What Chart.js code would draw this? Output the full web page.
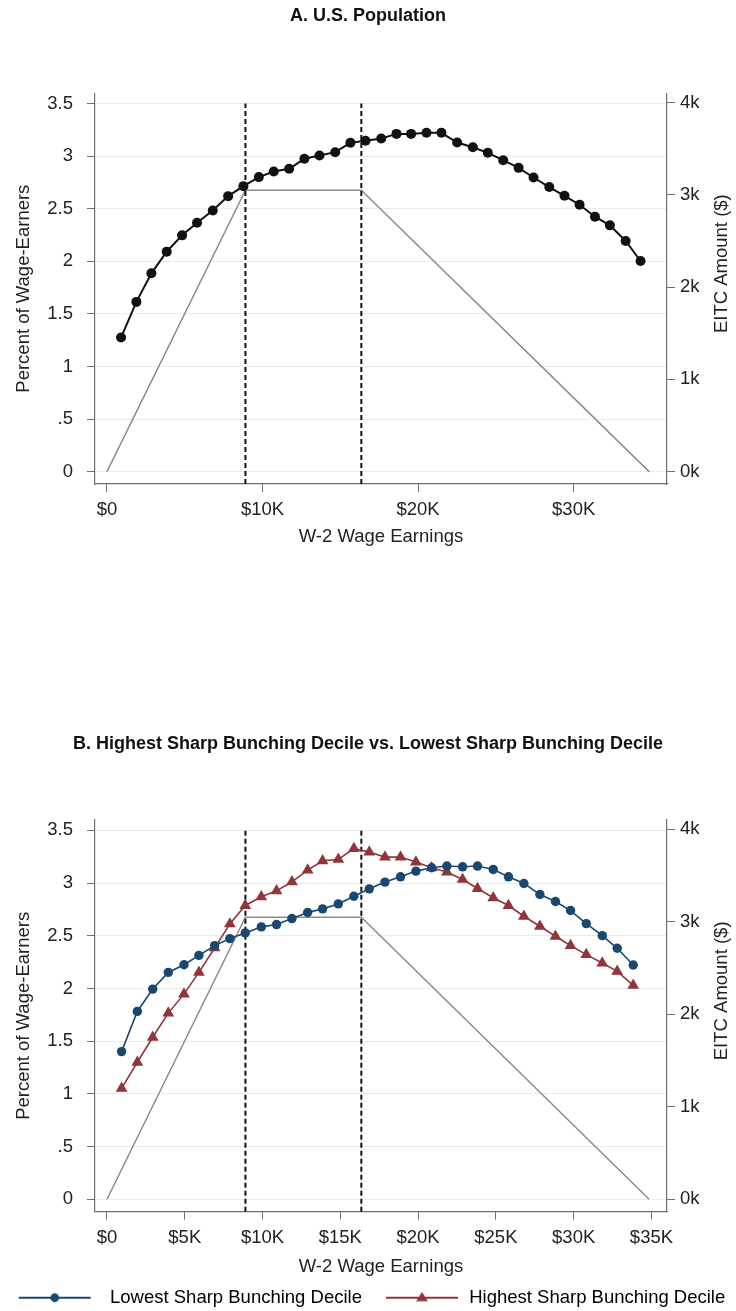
<!DOCTYPE html>
<html>
<head>
<meta charset="utf-8">
<script src="https://cdn.jsdelivr.net/npm/chart.js@4/dist/chart.umd.min.js"></script>
<style>
  html, body { margin: 0; padding: 0; background: #fff; overflow: hidden; }
  #wrapA { position: absolute; left: 0; top: 0; width: 736px; height: 560px; }
  #wrapB { position: absolute; left: 0; top: 730px; width: 736px; height: 587px; }
</style>
</head>
<body>
<div id="wrapA"><canvas id="chartA" width="736" height="560"></canvas></div>
<div id="wrapB"><canvas id="chartB" width="736" height="587"></canvas></div>
<script>
// Panel A: U.S. population, share of wage earners by W-2 earnings bin
const earningsA = [905, 1890, 2855, 3840, 4830, 5790, 6800, 7790, 8770, 9760, 10720, 11710,
  12690, 13660, 14670, 15650, 16620, 17630, 18610, 19550, 20540, 21500, 22510, 23520,
  24480, 25470, 26460, 27420, 28430, 29410, 30380, 31370, 32330, 33340, 34300];
const shareA = [1.275, 1.614, 1.886, 2.092, 2.247, 2.367, 2.484, 2.62, 2.715, 2.801, 2.854, 2.88,
  2.975, 3.006, 3.038, 3.127, 3.146, 3.168, 3.212, 3.212, 3.222, 3.222, 3.13, 3.085,
  3.032, 2.962, 2.889, 2.797, 2.706, 2.623, 2.538, 2.424, 2.342, 2.193, 2.003];

// Panel B: lowest vs highest sharp bunching decile
const earningsB = [940, 1950, 2940, 3940, 4950, 5910, 6920, 7900, 8890, 9920, 10900, 11890,
  12900, 13860, 14870, 15870, 16860, 17870, 18870, 19860, 20870, 21850, 22860, 23820,
  24830, 25810, 26800, 27830, 28830, 29800, 30810, 31840, 32800, 33830];
const shareLowest = [1.401, 1.782, 1.994, 2.152, 2.225, 2.314, 2.406, 2.473, 2.527, 2.584, 2.606, 2.663,
  2.72, 2.755, 2.802, 2.875, 2.945, 3.009, 3.059, 3.113, 3.145, 3.161, 3.154, 3.161,
  3.129, 3.059, 2.996, 2.891, 2.825, 2.739, 2.615, 2.501, 2.381, 2.222];
const shareHighest = [1.052, 1.30, 1.537, 1.766, 1.946, 2.152, 2.384, 2.612, 2.787, 2.869, 2.926, 3.012,
  3.123, 3.211, 3.224, 3.326, 3.294, 3.246, 3.246, 3.199, 3.145, 3.104, 3.034, 2.948,
  2.86, 2.787, 2.685, 2.59, 2.495, 2.406, 2.321, 2.241, 2.162, 2.029];

// EITC schedule (right axis) and its kinks (dashed lines)
const eitcEarnings = [0, 8900, 16350, 34850];
const eitcAmount = [0, 3050, 3050, 0];
const kinkEarnings = [8900, 16350];

// tick labels
const xTicksA = [0, 10000, 20000, 30000];
const xLabelsA = ['$0', '$10K', '$20K', '$30K'];
const xTicksB = [0, 5000, 10000, 15000, 20000, 25000, 30000, 35000];
const xLabelsB = ['$0', '$5K', '$10K', '$15K', '$20K', '$25K', '$30K', '$35K'];
const leftTicks = [0, 0.5, 1, 1.5, 2, 2.5, 3, 3.5];
const leftLabels = ['0', '.5', '1', '1.5', '2', '2.5', '3', '3.5'];
const rightTicks = [0, 1000, 2000, 3000, 4000];
const rightLabels = ['0k', '1k', '2k', '3k', '4k'];

const FONT = "'Liberation Sans', Arial, Helvetica, sans-serif";
Chart.defaults.font.family = FONT;
Chart.defaults.font.size = 18.5;
Chart.defaults.color = '#222';

const AXIS = '#6e6e6e';
const GRID = '#ebebeb';
const NAVY = '#1a476f';
const MAROON = '#90353b';

const xMin = -770, xMax = 36000;
const yMin = -0.118, yMax = 3.598;
const eitcPerUnit = 3050 / 2.676;   // right axis lined up with left
const dashTop = 3.5;

// right axis title reads bottom-to-top like the left one
const rightTitle = {
  id: 'rightTitle',
  afterDraw(chart, args, opts) {
    const a = chart.chartArea, ctx = chart.ctx;
    ctx.save();
    ctx.translate(opts.x, (a.top + a.bottom) / 2 + opts.dy);
    ctx.rotate(-Math.PI / 2);
    ctx.font = '18.5px ' + FONT;
    ctx.fillStyle = '#222';
    ctx.textAlign = 'center';
    ctx.textBaseline = 'middle';
    ctx.fillText(opts.text, 0, 0);
    ctx.restore();
  }
};

function fixed(vals) {
  return scale => { scale.ticks = vals.map(v => ({ value: v })); };
}

function points(xs, ys) {
  return xs.map((x, i) => ({ x: x, y: ys[i] }));
}

function kinkLines() {
  return kinkEarnings.map(k => ({
    data: [{ x: k, y: yMin }, { x: k, y: dashTop }],
    yAxisID: 'y',
    borderColor: '#111',
    borderWidth: 2,
    borderDash: [5, 3],
    pointRadius: 0
  }));
}

function eitcLine() {
  return {
    data: points(eitcEarnings, eitcAmount),
    yAxisID: 'yR',
    borderColor: '#8c8c8c',
    borderWidth: 1.5,
    pointRadius: 0
  };
}

function makeOptions(cfg) {
  return {
    responsive: false,
    animation: false,
    layout: { padding: 0 },
    scales: {
      x: {
        type: 'linear', min: xMin, max: xMax,
        afterBuildTicks: fixed(cfg.xTicks),
        afterFit: s => { s.height = cfg.xHeight; },
        ticks: { autoSkip: false, maxRotation: 0, padding: 7, color: '#222',
          callback: (v, i) => cfg.xLabels[i] },
        grid: { drawOnChartArea: false, tickLength: 8, tickColor: AXIS },
        border: { color: AXIS, width: 1.2 },
        title: { display: true, text: 'W-2 Wage Earnings', color: '#222',
          padding: { top: 0, bottom: cfg.xTitlePad } }
      },
      y: {
        position: 'left', min: yMin, max: yMax,
        afterBuildTicks: fixed(leftTicks),
        afterFit: s => { s.width = 95; },
        ticks: { autoSkip: false, padding: 14, color: '#222',
          callback: (v, i) => leftLabels[i] },
        grid: { color: GRID, lineWidth: 1, tickLength: 8, tickColor: AXIS },
        border: { color: AXIS, width: 1.2 },
        title: { display: true, text: 'Percent of Wage-Earners', color: '#222',
          padding: { top: 13, bottom: 0 } }
      },
      yR: {
        position: 'right', min: yMin * eitcPerUnit, max: yMax * eitcPerUnit,
        afterBuildTicks: fixed(rightTicks),
        afterFit: s => { s.width = 69; },
        ticks: { autoSkip: false, padding: 5, color: '#222',
          callback: (v, i) => rightLabels[i] },
        grid: { drawOnChartArea: false, tickLength: 8, tickColor: AXIS },
        border: { color: AXIS, width: 1.2 }
      }
    },
    plugins: {
      title: { display: true, text: cfg.title, color: '#111',
        font: { size: 18, weight: 'bold' },
        padding: { top: cfg.titleTop, bottom: cfg.titleBottom } },
      legend: cfg.legend,
      tooltip: { enabled: false },
      rightTitle: { text: 'EITC Amount ($)', x: 722, dy: -25 }
    }
  };
}

// little line+marker glyphs for the legend (same box width, line placed inside it)
function legendGlyph(color, shape, from, to) {
  const c = document.createElement('canvas');
  c.width = 90; c.height = 16;
  const g = c.getContext('2d');
  const mid = (from + to) / 2;
  g.strokeStyle = color; g.fillStyle = color; g.lineWidth = 2.2;
  g.beginPath(); g.moveTo(from, 8); g.lineTo(to, 8); g.stroke();
  g.beginPath();
  if (shape === 'circle') {
    g.arc(mid, 8, 4.4, 0, Math.PI * 2);
  } else {
    g.moveTo(mid, 2.3); g.lineTo(mid + 6, 11.5); g.lineTo(mid - 6, 11.5); g.closePath();
  }
  g.fill();
  return c;
}

new Chart(document.getElementById('chartA'), {
  type: 'line',
  data: {
    datasets: [
      {
        label: 'U.S. Population',
        data: points(earningsA, shareA),
        yAxisID: 'y',
        borderColor: '#111', backgroundColor: '#111',
        borderWidth: 2, pointRadius: 5, pointBorderWidth: 0
      },
      ...kinkLines(),
      eitcLine()
    ]
  },
  options: makeOptions({
    title: 'A. U.S. Population',
    titleTop: 5.2, titleBottom: 66.5,
    xTicks: xTicksA, xLabels: xLabelsA,
    xHeight: 76, xTitlePad: 11.9,
    legend: { display: false }
  }),
  plugins: [rightTitle]
});

const glyphLow = legendGlyph(NAVY, 'circle', 8, 80);
const glyphHigh = legendGlyph(MAROON, 'triangle', 16, 88);

new Chart(document.getElementById('chartB'), {
  type: 'line',
  data: {
    datasets: [
      {
        label: 'Lowest Sharp Bunching Decile',
        data: points(earningsB, shareLowest),
        yAxisID: 'y',
        borderColor: NAVY, backgroundColor: NAVY,
        borderWidth: 1.6, pointRadius: 4.7, pointBorderWidth: 0
      },
      {
        label: 'Highest Sharp Bunching Decile',
        data: points(earningsB, shareHighest),
        yAxisID: 'y',
        borderColor: MAROON, backgroundColor: MAROON,
        borderWidth: 1.6, pointRadius: 6.8, pointStyle: 'triangle', pointBorderWidth: 0
      },
      ...kinkLines(),
      eitcLine()
    ]
  },
  options: makeOptions({
    title: 'B. Highest Sharp Bunching Decile vs. Lowest Sharp Bunching Decile',
    titleTop: 3.2, titleBottom: 65.2,
    xTicks: xTicksB, xLabels: xLabelsB,
    xHeight: 68.8, xTitlePad: 2.4,
    legend: {
      display: true,
      position: 'bottom',
      labels: {
        usePointStyle: true,
        pointStyleWidth: 90,
        padding: 8,
        color: '#222',
        font: { size: 18.5 },
        generateLabels: () => [
          { text: 'Lowest Sharp Bunching Decile', pointStyle: glyphLow, fillStyle: NAVY,
            strokeStyle: NAVY, lineWidth: 0, hidden: false, datasetIndex: 0 },
          { text: 'Highest Sharp Bunching Decile', pointStyle: glyphHigh, fillStyle: MAROON,
            strokeStyle: MAROON, lineWidth: 0, hidden: false, datasetIndex: 1 }
        ]
      }
    }
  }),
  plugins: [rightTitle]
});
</script>
</body>
</html>
